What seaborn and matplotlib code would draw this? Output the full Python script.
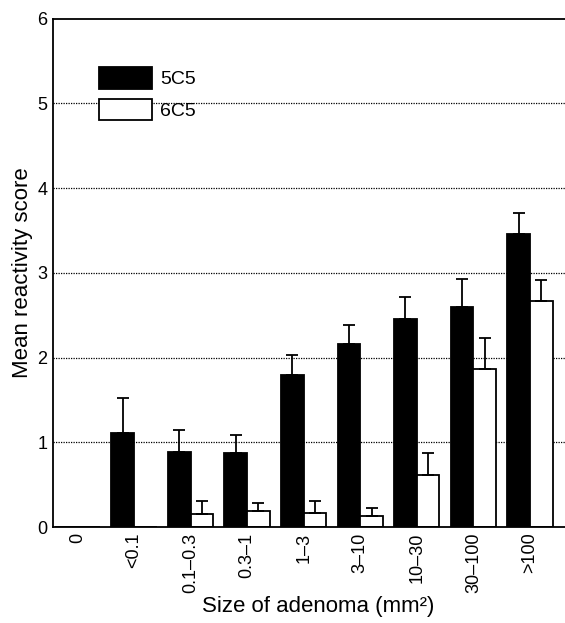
import pandas as pd
import seaborn as sns
import matplotlib.pyplot as plt

# values
sizes = ["0", "<0.1", "0.1–0.3", "0.3–1", "1–3", "3–10", "10–30", "30–100", ">100"]
mean_5c5 = [0.0, 1.11, 0.89, 0.87, 1.79, 2.16, 2.45, 2.60, 3.46]
top_5c5 = [0.0, 1.52, 1.14, 1.09, 2.03, 2.38, 2.72, 2.93, 3.71]
mean_6c5 = [0.0, 0.0, 0.16, 0.19, 0.17, 0.13, 0.61, 1.87, 2.67]
top_6c5 = [0.0, 0.0, 0.31, 0.28, 0.31, 0.22, 0.87, 2.23, 2.91]

df = pd.DataFrame({
    "size": sizes * 2,
    "score": mean_5c5 + mean_6c5,
    "antibody": ["5C5"] * len(sizes) + ["6C5"] * len(sizes),
})

sns.set_style("white")
plt.rcParams["font.family"] = ["Liberation Sans", "DejaVu Sans"]
plt.rcParams["text.color"] = "black"
plt.rcParams["axes.labelcolor"] = "black"

fig = plt.figure(figsize=(5.65, 6.23), dpi=100)
ax = fig.add_axes([0.094, 0.154, 0.906, 0.816])

sns.barplot(data=df, x="size", y="score", hue="antibody", order=sizes,
            palette=["black", "white"], edgecolor="black", linewidth=1.3,
            width=0.8, gap=0, errorbar=None, ax=ax)

# upper-only error bars placed on the drawn bars
for cont, tops in zip(ax.containers, [top_5c5, top_6c5]):
    for bar, t in zip(cont, tops):
        h = bar.get_height()
        if t <= h:
            continue
        xc = bar.get_x() + bar.get_width() / 2
        ax.errorbar(xc, h, yerr=[[0], [t - h]], fmt="none", ecolor="black",
                    elinewidth=1.3, capsize=4, capthick=1.3)

ax.set_ylim(0, 6)
ax.set_xlim(-0.43, 8.62)
ax.set_yticks(range(7))
for y in range(1, 6):
    ax.axhline(y, color="black", lw=0.9, ls=(0, (1, 1)), zorder=0)

ax.spines["right"].set_visible(False)
for s in ["left", "top", "bottom"]:
    ax.spines[s].set_color("black")
    ax.spines[s].set_linewidth(1.3)

ax.tick_params(axis="both", length=0, labelsize=13, pad=4, colors="black")
ax.tick_params(axis="x", labelrotation=90)
ax.set_xlabel("Size of adenoma (mm²)", fontsize=16, color="black")
ax.xaxis.set_label_coords(0.518, -0.136)
ax.set_ylabel("Mean reactivity score", fontsize=16, labelpad=3, color="black")

leg = ax.get_legend()
handles = leg.legend_handles
labels = [t.get_text() for t in leg.get_texts()]
ax.legend(handles, labels, loc="upper left", bbox_to_anchor=(0.09, 0.905),
          frameon=False, fontsize=14, handlelength=2.7, handleheight=1.35,
          labelspacing=0.5, handletextpad=0.45, borderpad=0, borderaxespad=0,
          labelcolor="black")

fig.savefig("out.png", dpi=100)
